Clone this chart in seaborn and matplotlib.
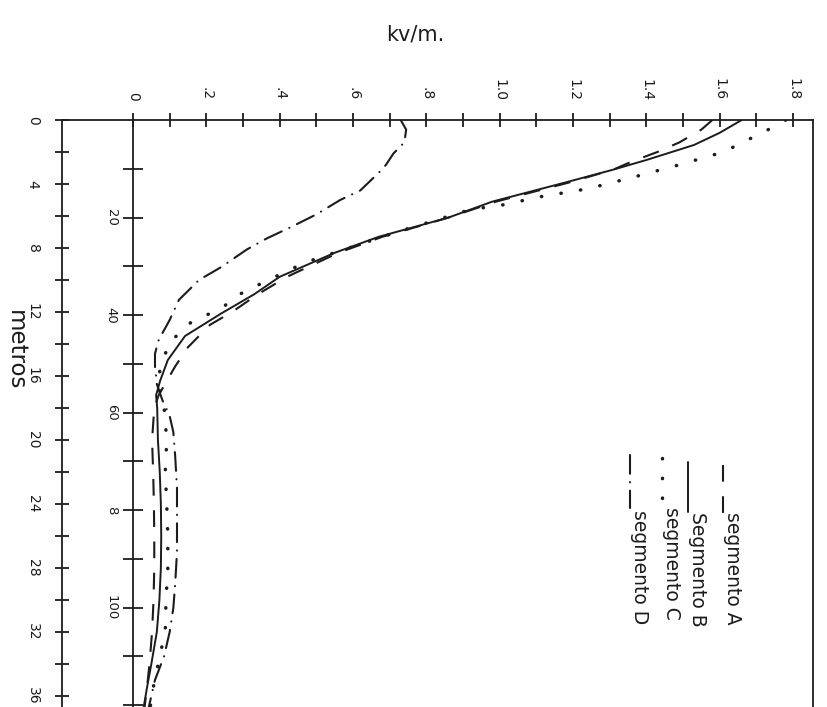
import matplotlib
matplotlib.use("Agg")
import matplotlib.pyplot as plt
import numpy as np
import pandas as pd
import seaborn as sns
from matplotlib.lines import Line2D
from matplotlib.ticker import FixedLocator, FixedFormatter

# ---- data: electric field (kV/m) versus distance (m) for four segments ----
depth_a = [0, 0.6, 1.4, 2.0, 2.6, 3.1, 3.9, 4.5, 5.1, 6.1, 7.3, 8.3, 9.8, 10.9,
           12.0, 12.8, 14.2, 15.4, 16.6, 17.2, 18.0, 20, 22, 24, 26, 28, 30,
           32, 34, 35.5, 37]
field_a = [1.58, 1.55, 1.49, 1.43, 1.36, 1.31, 1.19, 1.09, 0.99, 0.86, 0.68,
           0.56, 0.42, 0.34, 0.27, 0.21, 0.15, 0.115, 0.085, 0.07, 0.058, 0.052,
           0.055, 0.057, 0.058, 0.058, 0.056, 0.052, 0.045, 0.038, 0.03]

depth_b = [0, 0.8, 1.56, 2.5, 3.1, 3.9, 4.5, 5.1, 6.1, 7.3, 8.3, 9.8, 10.9,
           12.1, 13.5, 15.0, 16.3, 17.2, 18.0, 20, 22, 24, 26, 28, 30, 32, 34,
           35.5, 37]
field_b = [1.66, 1.60, 1.53, 1.40, 1.31, 1.18, 1.08, 0.98, 0.86, 0.67, 0.55,
           0.40, 0.33, 0.24, 0.142, 0.095, 0.074, 0.063, 0.066, 0.068, 0.073,
           0.076, 0.077, 0.076, 0.072, 0.065, 0.05, 0.038, 0.027]

depth_c = [0, 0.4, 2.0, 2.8, 3.6, 4.3, 4.8, 5.3, 5.6, 7.0, 8.9, 10.1, 10.9,
           11.7, 12.7, 13.9, 15.4, 16.5, 18.0, 20, 22, 24, 26, 28, 30, 32,
           33.3, 34.4, 35.5, 37]
field_c = [1.78, 1.75, 1.61, 1.49, 1.36, 1.24, 1.11, 1.01, 0.92, 0.72, 0.47,
           0.36, 0.29, 0.245, 0.155, 0.10, 0.075, 0.068, 0.085, 0.092, 0.088,
           0.092, 0.095, 0.095, 0.09, 0.088, 0.075, 0.065, 0.055, 0.045]

depth_d = [0, 0.6, 1.4, 2.1, 2.8, 3.3, 4.4, 5.0, 5.9, 6.7, 7.4, 8.1, 9.2, 10.0,
           11.25, 12.5, 13.75, 14.6, 15.4, 16.5, 17.5, 18.5, 19.5, 21, 23, 25,
           27, 29, 30.5, 32, 33.5, 35, 37]
field_d = [0.73, 0.745, 0.74, 0.71, 0.69, 0.67, 0.62, 0.565, 0.50, 0.43, 0.365,
           0.31, 0.24, 0.18, 0.125, 0.10, 0.07, 0.06, 0.06, 0.065, 0.08, 0.10,
           0.11, 0.115, 0.12, 0.12, 0.12, 0.115, 0.11, 0.10, 0.085, 0.06, 0.04]

segment_labels = ["segmento A", "Segmento B", "segmento C", "segmento D"]

kv_major = [0, 0.2, 0.4, 0.6, 0.8, 1.0, 1.2, 1.4, 1.6, 1.8]
kv_labels = ["0", ".2", ".4", ".6", ".8", "1.0", "1.2", "1.4", "1.6", "1.8"]
kv_minor = [0.1, 0.3, 0.5, 0.7, 0.9, 1.1, 1.3, 1.5, 1.7]

m_major = [0, 4, 8, 12, 16, 20, 24, 28, 32, 36]
m_labels = ["0", "4", "8", "12", "16", "20", "24", "28", "32", "36"]
m_minor = [2, 6, 10, 14, 18, 22, 26, 30, 34, 38]

ft_major = [20, 40, 60, 80, 100]
ft_labels = ["20", "40", "60", "8", "100"]
ft_minor = [10, 30, 50, 70, 90, 110, 120]

# ---- styling ----
sns.set_theme(style="white")
plt.rcParams["font.family"] = ["DejaVu Sans"]
INK = "#1c1c1c"

W, H = 828, 707
fig = plt.figure(figsize=(W / 100, H / 100), dpi=100, facecolor="white")
ax = fig.add_axes([62 / W, 1 - (120 + 640) / H, 751 / W, 640 / H])
ax.set_facecolor("white")

styles = [
    dict(linestyle=(0, (8, 7)), lw=1.5),
    dict(linestyle="-", lw=1.4),
    dict(linestyle=(0, (0.1, 5.6)), lw=2.5, dash_capstyle="round"),
    dict(linestyle=(0, (9, 4, 0.1, 4)), lw=1.5, dash_capstyle="round"),
]

series = [(field_a, depth_a), (field_b, depth_b), (field_c, depth_c), (field_d, depth_d)]
for (fx, dy), st in zip(series, styles):
    frame = pd.DataFrame({"kv": fx, "m": dy})
    sns.lineplot(data=frame, x="kv", y="m", sort=False, estimator=None,
                 color=INK, ax=ax, legend=False, **st)

ax.set_xlim(-0.1936, 1.8544)
ax.set_ylim(40, 0)
ax.set_xlabel("")
ax.set_ylabel("")

for side in ["top", "left", "right"]:
    ax.spines[side].set_visible(True)
    ax.spines[side].set_color(INK)
    ax.spines[side].set_linewidth(1.3)
ax.spines["bottom"].set_visible(False)

# kV/m scale along the top edge
ax.xaxis.set_ticks_position("top")
ax.xaxis.set_major_locator(FixedLocator(kv_major))
ax.xaxis.set_major_formatter(FixedFormatter(kv_labels))
ax.xaxis.set_minor_locator(FixedLocator(kv_minor))
ax.tick_params(axis="x", which="both", top=True, bottom=False, labeltop=True,
               labelbottom=False, direction="inout", length=10, width=1.3,
               color=INK, labelcolor=INK, pad=9, labelsize=10, labelrotation=-90)

# metres scale on the left edge
ax.yaxis.set_major_locator(FixedLocator(m_major))
ax.yaxis.set_major_formatter(FixedFormatter(m_labels))
ax.yaxis.set_minor_locator(FixedLocator(m_minor))
ax.tick_params(axis="y", which="both", left=True, right=False, direction="inout",
               length=10, width=1.3, color=INK, labelcolor=INK, pad=11,
               labelsize=10, labelrotation=-90)
for t in ax.get_yticklabels():
    t.set_va("center")

# feet scale drawn along the zero-field line
zero_frac = (0 - (-0.1936)) / (1.8544 + 0.1936)
sec = ax.secondary_yaxis(zero_frac, functions=(lambda m: m / 0.3048, lambda f: f * 0.3048))
sec.yaxis.set_major_locator(FixedLocator(ft_major))
sec.yaxis.set_major_formatter(FixedFormatter(ft_labels))
sec.yaxis.set_minor_locator(FixedLocator(ft_minor))
sec.tick_params(axis="y", which="both", direction="inout", length=14, width=1.3,
                color=INK, labelcolor=INK, pad=4, labelsize=9.5, labelrotation=-90)
for t in sec.get_yticklabels():
    t.set_va("center")
for s in sec.spines.values():
    s.set_color(INK)
    s.set_linewidth(1.3)

# titles
fig.text(415 / W, 1 - 34 / H, "kv/m.", ha="center", va="center", fontsize=15, color=INK)
fig.text(15 / W, 1 - 350 / H, "metros", ha="center", va="center", rotation=-90,
         fontsize=16.5, color=INK)

# hand-lettered key, written sideways
key_layout = [
    (723, 465, 517, 733, 512),
    (688, 462, 512, 698, 512),
    (662, 458, 507, 671, 507),
    (630, 455, 508, 640, 510),
]
for (lx, ly0, ly1, tx, ty), st, lab in zip(key_layout, styles, segment_labels):
    fig.add_artist(Line2D([lx / W, lx / W], [1 - ly0 / H, 1 - ly1 / H],
                          transform=fig.transFigure, color=INK, **st))
    fig.text(tx / W, 1 - ty / H, lab, rotation=-90, ha="center", va="top",
             fontsize=13.5, color=INK)

fig.savefig("out.png", dpi=100, facecolor="white")
